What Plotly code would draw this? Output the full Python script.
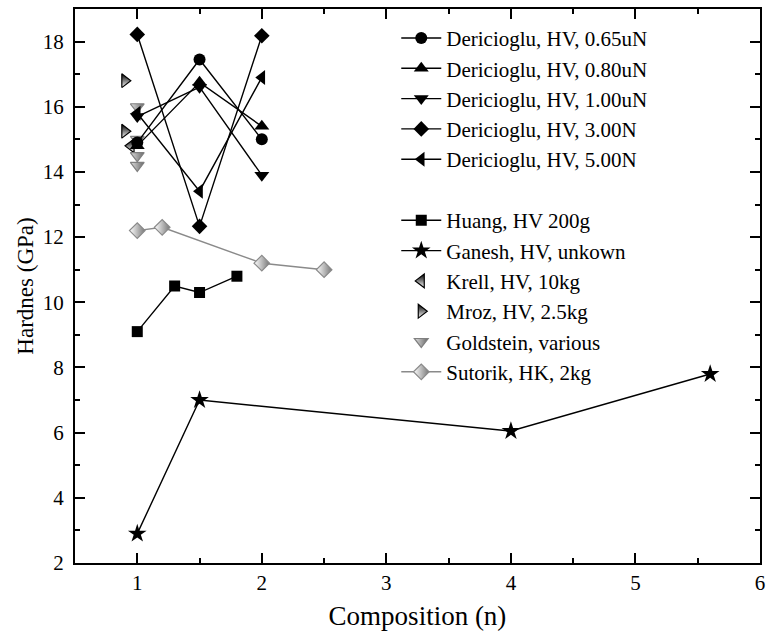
import plotly.graph_objects as go

# ---- data ----
x_der = [1.0, 1.5, 2.0]
der_065 = [14.9, 17.45, 15.0]
der_080 = [14.8, 16.75, 15.4]
der_100 = [15.7, 16.6, 13.9]
der_300 = [18.22, 12.33, 18.18]
der_500 = [15.8, 13.41, 16.9]

huang_x = [1.0, 1.3, 1.5, 1.8]
huang_y = [9.1, 10.5, 10.3, 10.8]

ganesh_x = [1.0, 1.5, 4.0, 5.6]
ganesh_y = [2.9, 7.0, 6.05, 7.8]

krell_x = [0.95]
krell_y = [14.8]

mroz_x = [0.9, 0.9]
mroz_y = [16.8, 15.25]

gold_x = [1.0, 1.0, 1.0, 1.0]
gold_y = [16.0, 15.0, 14.5, 14.2]

sut_x = [1.0, 1.2, 2.0, 2.5]
sut_y = [12.2, 12.3, 11.2, 11.0]

FONT = "Liberation Serif"

fig = go.Figure()

# second legend group
fig.add_trace(go.Scatter(x=huang_x, y=huang_y, mode="lines+markers", name="Huang, HV 200g",
                         line=dict(color="black", width=1.4),
                         marker=dict(symbol="square", size=11, color="black"),
                         legend="legend2"))
fig.add_trace(go.Scatter(x=ganesh_x, y=ganesh_y, mode="lines+markers", name="Ganesh, HV, unkown",
                         line=dict(color="black", width=1.4),
                         marker=dict(symbol="star", size=14, color="black"),
                         legend="legend2"))
fig.add_trace(go.Scatter(x=krell_x, y=krell_y, mode="markers", name="Krell, HV, 10kg",
                         marker=dict(symbol="triangle-left", size=12, color="black",
                                     gradient=dict(type="vertical", color="white"),
                                     line=dict(color="black", width=1.2)),
                         legend="legend2"))
fig.add_trace(go.Scatter(x=mroz_x, y=mroz_y, mode="markers", name="Mroz, HV, 2.5kg",
                         marker=dict(symbol="triangle-right", size=12, color="black",
                                     gradient=dict(type="vertical", color="white"),
                                     line=dict(color="black", width=1.2)),
                         legend="legend2"))
fig.add_trace(go.Scatter(x=gold_x, y=gold_y, mode="markers", name="Goldstein, various",
                         marker=dict(symbol="triangle-down", size=12, color="#e0e0e0",
                                     gradient=dict(type="horizontal", color="#666666"),
                                     line=dict(color="#808080", width=1.2)),
                         legend="legend2"))
fig.add_trace(go.Scatter(x=sut_x, y=sut_y, mode="lines+markers", name="Sutorik, HK, 2kg",
                         line=dict(color="#8a8a8a", width=1.4),
                         marker=dict(symbol="diamond", size=12, color="white",
                                     gradient=dict(type="horizontal", color="#777777"),
                                     line=dict(color="#8a8a8a", width=1.2)),
                         legend="legend2"))

# Dericioglu series
der_series = [
    (der_065, "circle", 12, "Dericioglu, HV, 0.65uN"),
    (der_080, "triangle-up", 13, "Dericioglu, HV, 0.80uN"),
    (der_100, "triangle-down", 13, "Dericioglu, HV, 1.00uN"),
    (der_300, "diamond", 12, "Dericioglu, HV, 3.00N"),
    (der_500, "triangle-left", 13, "Dericioglu, HV, 5.00N"),
]
for yv, sym, sz, nm in der_series:
    fig.add_trace(go.Scatter(x=x_der, y=yv, mode="lines+markers", name=nm,
                             line=dict(color="black", width=1.4),
                             marker=dict(symbol=sym, size=sz, color="black"),
                             legend="legend"))

axis_common = dict(
    showline=True, linecolor="black", linewidth=2, mirror="allticks",
    ticks="inside", ticklen=10, tickwidth=1.5, tickcolor="black",
    showgrid=False, zeroline=False,
    tickfont=dict(family=FONT, size=21, color="black"),
)

fig.update_xaxes(range=[0.5, 6], dtick=1, tick0=0,
                 minor=dict(dtick=0.5, ticks="inside", ticklen=5, tickwidth=1.5, tickcolor="black"),
                 title=dict(text="Composition (n)", font=dict(family=FONT, size=27, color="black"), standoff=12),
                 **axis_common)
fig.update_yaxes(range=[2, 19], dtick=2, tick0=0, ticklabelstandoff=5,
                 minor=dict(dtick=1, ticks="inside", ticklen=5, tickwidth=1.5, tickcolor="black"),
                 title=dict(text="Hardnes (GPa)", font=dict(family=FONT, size=23, color="black"), standoff=3),
                 **axis_common)

legend_common = dict(
    font=dict(family=FONT, size=21, color="black"),
    bgcolor="rgba(0,0,0,0)", borderwidth=0,
    xanchor="left", yanchor="top",
    tracegroupgap=0, itemwidth=40,
)

fig.update_layout(
    width=772, height=643,
    margin=dict(l=75, r=9, t=7, b=80),
    plot_bgcolor="white", paper_bgcolor="white",
    legend=dict(x=0.469, y=0.984, **legend_common),
    legend2=dict(x=0.469, y=0.655, **legend_common),
    font=dict(family=FONT, color="black"),
)

fig.write_html("out.html")
